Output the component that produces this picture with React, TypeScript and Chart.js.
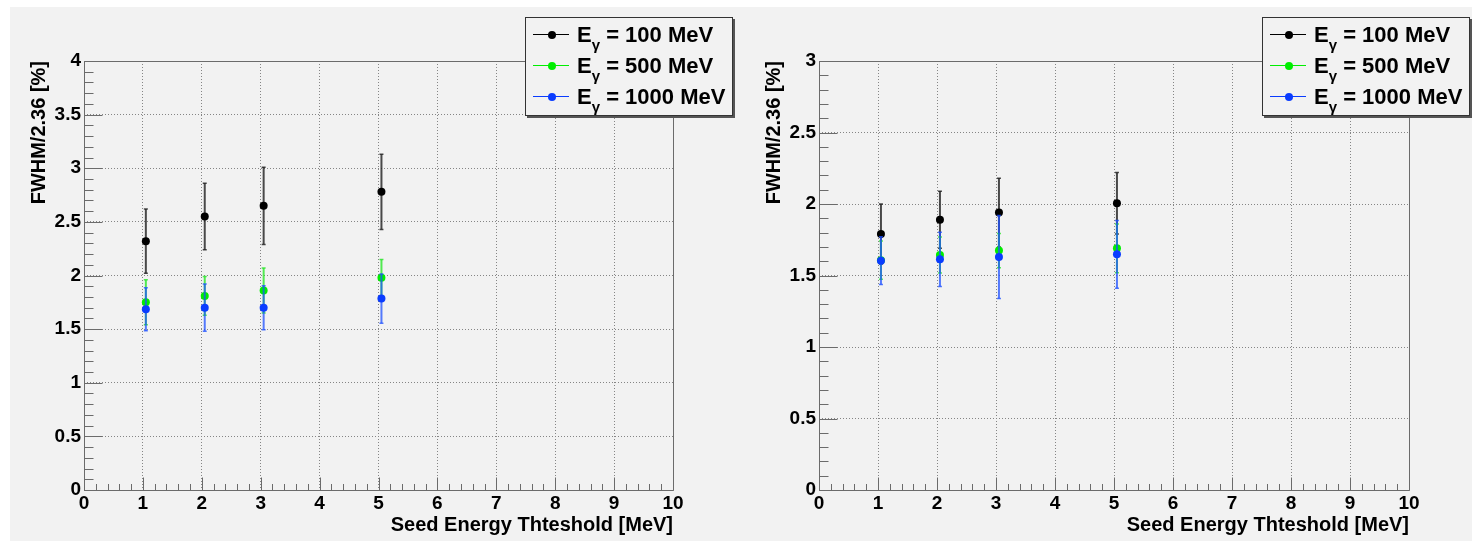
import React, { useEffect, useRef } from "react";
import { Chart, registerables } from "chart.js";

Chart.register(...registerables);

// ---------- data ----------
const seedThresholds = [1.05, 2.05, 3.05, 5.05];

const seriesLabels = ["100 MeV", "500 MeV", "1000 MeV"];
const seriesColors = ["#000000", "#00ee00", "#0a3cff"];
const errorColors = ["rgba(30,30,30,0.8)", "rgba(40,230,40,0.8)", "rgba(30,80,255,0.75)"];

// left panel
const leftE100 = [2.32, 2.55, 2.65, 2.78];
const leftE100Err = [0.3, 0.31, 0.36, 0.35];
const leftE500 = [1.75, 1.81, 1.86, 1.98];
const leftE500Err = [0.21, 0.18, 0.21, 0.17];
const leftE1000 = [1.685, 1.7, 1.7, 1.785];
const leftE1000Err = [0.2, 0.22, 0.205, 0.23];

// right panel
const rightE100 = [1.79, 1.89, 1.94, 2.005];
const rightE100Err = [0.21, 0.2, 0.24, 0.215];
const rightE500 = [1.607, 1.643, 1.674, 1.69];
const rightE500Err = [0.134, 0.126, 0.12, 0.17];
const rightE1000 = [1.604, 1.613, 1.629, 1.648];
const rightE1000Err = [0.167, 0.19, 0.29, 0.237];

const xMin = 0;
const xMax = 10;
const xMajorStep = 1;
const xMinorStep = 0.2;
const yMajorStep = 0.5;
const yMinorStep = 0.1;
const leftYMax = 4;
const rightYMax = 3;

const xTitle = "Seed Energy Thteshold [MeV]";
const yTitle = "FWHM/2.36 [%]";

// ---------- styling ----------
const FONT = "'Liberation Sans', Arial, Helvetica, sans-serif";
const BG = "#f2f2f2";
const AXIS = "#6b6b6b";
const GRID = "#858585";

const errorBarPlugin = {
  id: "errorBars",
  beforeDatasetDraw(chart: any, args: any) {
    const ds: any = chart.data.datasets[args.index];
    const errs: number[] = ds.errors || [];
    const ys = chart.scales.y;
    const ctx = chart.ctx;
    ctx.save();
    args.meta.data.forEach((pt: any, i: number) => {
      const raw = ds.data[i];
      const top = ys.getPixelForValue(raw.y + errs[i]);
      const bot = ys.getPixelForValue(raw.y - errs[i]);
      ctx.strokeStyle = ds.errorColor;
      ctx.lineWidth = 2;
      ctx.beginPath();
      ctx.moveTo(pt.x, top);
      ctx.lineTo(pt.x, bot);
      ctx.stroke();
      ctx.lineWidth = 1.5;
      ctx.beginPath();
      ctx.moveTo(pt.x - 2, top);
      ctx.lineTo(pt.x + 2, top);
      ctx.moveTo(pt.x - 2, bot);
      ctx.lineTo(pt.x + 2, bot);
      ctx.stroke();
    });
    ctx.restore();
  },
};

const rootAxesPlugin = {
  id: "rootAxes",
  beforeDatasetsDraw(chart: any) {
    const { ctx, chartArea: a, scales } = chart;
    const x = scales.x;
    const y = scales.y;
    ctx.save();
    ctx.strokeStyle = AXIS;
    ctx.lineWidth = 1;
    const L = Math.round(a.left) + 0.5;
    const R = Math.round(a.right) + 0.5;
    const T = Math.round(a.top) + 0.5;
    const B = Math.round(a.bottom) + 0.5;
    ctx.beginPath();
    ctx.rect(L, T, R - L, B - T);
    ctx.stroke();
    const nY = Math.round((y.max - y.min) / yMinorStep);
    const perMajorY = Math.round(yMajorStep / yMinorStep);
    ctx.beginPath();
    for (let k = 0; k <= nY; k++) {
      const p = Math.round(y.getPixelForValue(y.min + k * yMinorStep)) + 0.5;
      const len = k % perMajorY === 0 ? 18 : 9;
      ctx.moveTo(L, p);
      ctx.lineTo(L + len, p);
    }
    const nX = Math.round((x.max - x.min) / xMinorStep);
    const perMajorX = Math.round(xMajorStep / xMinorStep);
    for (let k = 0; k <= nX; k++) {
      const p = Math.round(x.getPixelForValue(x.min + k * xMinorStep)) + 0.5;
      const len = k % perMajorX === 0 ? 13 : 6.5;
      ctx.moveTo(p, B);
      ctx.lineTo(p, B - len);
    }
    ctx.stroke();
    ctx.restore();
  },
};

function makeDataset(i: number, vals: number[], errs: number[]) {
  return {
    label: seriesLabels[i],
    data: seedThresholds.map((x, j) => ({ x, y: vals[j] })),
    errors: errs,
    errorColor: errorColors[i],
    backgroundColor: seriesColors[i],
    borderColor: seriesColors[i],
    pointRadius: 4,
    pointHoverRadius: 4,
    pointBorderWidth: 0,
    showLine: false,
    order: seriesLabels.length - i,
  };
}

function makeConfig(yMax: number, datasets: any[], rightPad: number): any {
  const tickFont = { family: FONT, weight: "bold", size: 19 };
  const titleFont = { family: FONT, weight: "bold", size: 20 };
  return {
    type: "scatter",
    data: { datasets },
    options: {
      responsive: false,
      animation: false,
      devicePixelRatio: 1,
      events: [],
      layout: { padding: { left: 0, right: rightPad, top: 61, bottom: 0 } },
      plugins: { legend: { display: false }, tooltip: { enabled: false } },
      scales: {
        x: {
          type: "linear",
          position: "bottom",
          min: xMin,
          max: xMax,
          afterFit: (s: any) => {
            s.height = 51;
          },
          ticks: {
            stepSize: xMajorStep,
            font: tickFont,
            color: "#000",
            padding: 2,
            maxRotation: 0,
            autoSkip: false,
            callback: (v: any) => String(v),
          },
          grid: { color: GRID, lineWidth: 1, drawTicks: false },
          border: { display: false, dash: [1, 2] },
          title: {
            display: true,
            text: xTitle,
            align: "end",
            color: "#000",
            font: titleFont,
            padding: { top: 0, bottom: 4 },
          },
        },
        y: {
          type: "linear",
          min: 0,
          max: yMax,
          afterFit: (s: any) => {
            s.width = 84;
          },
          ticks: {
            stepSize: yMajorStep,
            font: tickFont,
            color: "#000",
            padding: 3,
            autoSkip: false,
            callback: (v: any) => String(v),
          },
          grid: { color: GRID, lineWidth: 1, drawTicks: false },
          border: { display: false, dash: [1, 2] },
          title: {
            display: true,
            text: yTitle,
            align: "end",
            color: "#000",
            font: titleFont,
            padding: { top: 27, bottom: 0 },
          },
        },
      },
    },
    plugins: [errorBarPlugin, rootAxesPlugin],
  };
}

function Panel(props: { left: number; width: number; yMax: number; datasets: any[]; rightPad: number }) {
  const ref = useRef<HTMLCanvasElement | null>(null);
  useEffect(() => {
    if (!ref.current) return;
    const chart = new Chart(ref.current, makeConfig(props.yMax, props.datasets, props.rightPad));
    return () => chart.destroy();
  }, []);
  return (
    <canvas
      ref={ref}
      width={props.width}
      height={541}
      style={{ position: "absolute", left: props.left, top: 0, width: props.width, height: 541 }}
    />
  );
}

function Legend(props: { left: number }) {
  return (
    <div
      style={{
        position: "absolute",
        left: props.left,
        top: 17,
        width: 206,
        height: 97,
        border: "1px solid #333",
        boxShadow: "2px 2px 0 #555",
        background: BG,
        fontFamily: FONT,
        fontWeight: "bold",
        fontSize: 22,
        color: "#000",
      }}
    >
      {seriesLabels.map((lab, i) => (
        <div key={i} style={{ position: "absolute", left: 0, top: i * 31 + 0.5, height: 31, width: "100%" }}>
          <div style={{ position: "absolute", left: 7, top: 15, width: 36, height: 1.5, background: seriesColors[i] }} />
          <div
            style={{
              position: "absolute",
              left: 21.5,
              top: 12,
              width: 8,
              height: 8,
              borderRadius: "50%",
              background: seriesColors[i],
            }}
          />
          <div style={{ position: "absolute", left: 51, top: 0, lineHeight: "31px", whiteSpace: "nowrap" }}>
            E<span style={{ fontSize: 15, position: "relative", top: 8 }}>γ</span> = {lab}
          </div>
        </div>
      ))}
    </div>
  );
}

export default function App() {
  const leftSets = [
    makeDataset(0, leftE100, leftE100Err),
    makeDataset(1, leftE500, leftE500Err),
    makeDataset(2, leftE1000, leftE1000Err),
  ];
  const rightSets = [
    makeDataset(0, rightE100, rightE100Err),
    makeDataset(1, rightE500, rightE500Err),
    makeDataset(2, rightE1000, rightE1000Err),
  ];
  return (
    <div style={{ position: "absolute", left: 0, top: 0, width: 1472, height: 541, background: "#fff", overflow: "hidden" }}>
      <div style={{ position: "absolute", left: 10, top: 7, right: 0, bottom: 0, background: BG }} />
      <Panel left={0} width={735} yMax={leftYMax} datasets={leftSets} rightPad={62} />
      <Panel left={735} width={737} yMax={rightYMax} datasets={rightSets} rightPad={63} />
      <Legend left={525} />
      <Legend left={1262} />
    </div>
  );
}
